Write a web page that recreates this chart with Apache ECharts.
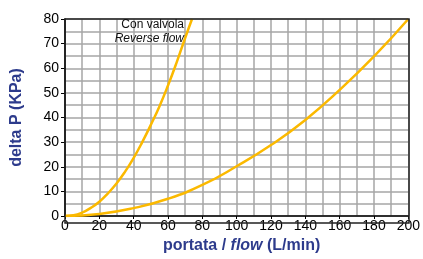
<!DOCTYPE html>
<html>
<head>
<meta charset="UTF-8">
<title>delta P</title>
<script src="https://cdn.jsdelivr.net/npm/echarts@6/dist/echarts.min.js"></script>
<style>
  html, body { margin: 0; padding: 0; background: #fff; }
  #chart { width: 423px; height: 259px; }
</style>
</head>
<body>
<div id="chart"></div>
<script>
// curve with valve, reverse flow (L/min, KPa)
var reverseFlow = [0, 5, 10, 15, 20, 25, 30, 35, 40, 45, 50, 55, 60, 65, 70, 74];
var reverseDp = [0, 0.3, 1.4, 3.3, 5.8, 9.2, 13.2, 18, 23.6, 30, 37, 44.5, 53, 62.3, 72.3, 80];
// normal flow curve
var flow = [0, 20, 40, 60, 80, 100, 120, 140, 160, 180, 200];
var dp = [0, 0.8, 3.2, 7, 12.6, 20.2, 28.8, 39, 51.2, 64.8, 80];

var blue = '#2d3b8c';
var gridGray = '#a6a6a6';

function pairs(xs, ys) {
  return xs.map(function (x, i) { return [x, ys[i]]; });
}

var chart = echarts.init(document.getElementById('chart'));
chart.setOption({
  animation: false,
  grid: { left: 65, right: 14, top: 19, bottom: 36 },
  xAxis: {
    type: 'value', min: 0, max: 200, interval: 20,
    name: '{b|portata / }{i|flow}{b| (L/min)}',
    nameLocation: 'middle', nameGap: 22,
    nameTextStyle: {
      padding: [0, 0, 0, 10],
      rich: {
        b: { fontFamily: 'Liberation Sans', fontSize: 16, fontWeight: 'bold', color: blue },
        i: { fontFamily: 'Liberation Sans', fontSize: 16, fontWeight: 'bold', fontStyle: 'italic', color: blue }
      }
    },
    axisLine: { show: true, onZero: false, lineStyle: { color: '#000', width: 1.5 } },
    axisTick: { show: true, length: 3, lineStyle: { color: '#000' } },
    axisLabel: { color: '#000', fontFamily: 'Liberation Sans', fontSize: 14, margin: 3 },
    splitLine: { show: true, lineStyle: { color: gridGray, width: 1.5 } },
    minorTick: { show: false, splitNumber: 2 },
    minorSplitLine: { show: true, lineStyle: { color: gridGray, width: 1.5 } }
  },
  yAxis: {
    type: 'value', min: 0, max: 80, interval: 10,
    name: 'delta P (KPa)',
    nameLocation: 'middle', nameGap: 40,
    nameTextStyle: { fontFamily: 'Liberation Sans', fontSize: 16, fontWeight: 'bold', color: blue },
    axisLine: { show: true, lineStyle: { color: '#000', width: 1.5 } },
    axisTick: { show: true, length: 4, lineStyle: { color: '#000' } },
    axisLabel: { color: '#000', fontFamily: 'Liberation Sans', fontSize: 14, margin: 6 },
    splitLine: { show: true, lineStyle: { color: gridGray, width: 1.5 } },
    minorTick: { show: false, splitNumber: 2 },
    minorSplitLine: { show: true, lineStyle: { color: gridGray, width: 1.5 } }
  },
  graphic: [
    // frame on top and right
    { type: 'rect', shape: { x: 65, y: 19, width: 344, height: 204 }, style: { fill: 'none', stroke: '#222', lineWidth: 1.5 }, silent: true, z: 5 },
    { type: 'text', right: 423 - 184, top: 19, style: { text: 'Con valvola', font: '12px "Liberation Sans"', fill: '#111', textAlign: 'right' }, z: 6 },
    { type: 'text', right: 423 - 184, top: 33, style: { text: 'Reverse flow', font: 'italic 12px "Liberation Sans"', fill: '#111', textAlign: 'right' }, z: 6 }
  ],
  series: [
    {
      type: 'line', smooth: true, showSymbol: false,
      data: pairs(reverseFlow, reverseDp),
      lineStyle: { color: '#fbb900', width: 2.5 }
    },
    {
      type: 'line', smooth: true, showSymbol: false,
      data: pairs(flow, dp),
      lineStyle: { color: '#fbb900', width: 2.5 }
    }
  ]
});
</script>
</body>
</html>
